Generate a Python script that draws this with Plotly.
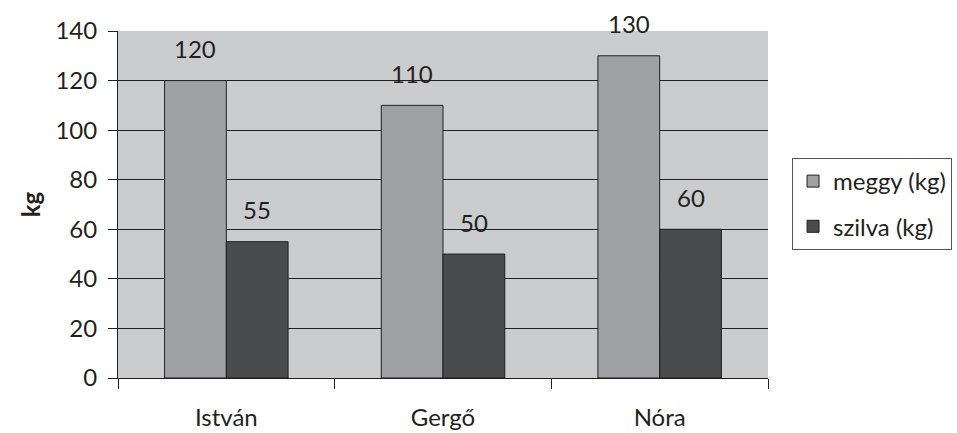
import plotly.graph_objects as go

names = ["István", "Gergő", "Nóra"]
meggy = [120, 110, 130]
szilva = [55, 50, 60]
series_names = ["meggy (kg)", "szilva (kg)"]
y_ticks = [0, 20, 40, 60, 80, 100, 120, 140]

ink = "#231f20"
font_family = "Lato, 'Open Sans', sans-serif"
fsize = 24

fig = go.Figure()
fig.add_trace(go.Bar(
    x=names, y=meggy, name=series_names[0], legendgroup="a",
    marker=dict(color="#a0a1a4", line=dict(color=ink, width=1)),
))
fig.add_trace(go.Bar(
    x=names, y=szilva, name=series_names[1], legendgroup="b",
    marker=dict(color="#4a4b4d", line=dict(color=ink, width=1)),
))

# value labels above each bar
for vals, shift in ((meggy, -31), (szilva, 31)):
    for n, v in zip(names, vals):
        fig.add_annotation(
            x=n, y=v, text=str(v), showarrow=False,
            xshift=shift, yshift=32,
            font=dict(family=font_family, size=fsize, color=ink),
        )

fig.update_layout(
    width=957, height=433,
    margin=dict(l=118, r=189, t=31, b=55, autoexpand=False),
    paper_bgcolor="white",
    plot_bgcolor="#cbcccd",
    barmode="group",
    bargap=0.43,
    bargroupgap=0,
    font=dict(family=font_family, size=fsize, color=ink),
    showlegend=True,
    legend=dict(
        x=1.037, y=0.634, xanchor="left", yanchor="top",
        bordercolor="#555555", borderwidth=1,
        bgcolor="white",
        font=dict(family=font_family, size=fsize, color=ink),
        tracegroupgap=11,
        itemwidth=30,
    ),
)

fig.update_xaxes(
    type="category",
    tickson="boundaries",
    ticks="outside", ticklen=10, tickcolor=ink, tickwidth=1,
    showline=True, linecolor=ink, linewidth=1,
    showgrid=False,
    automargin=False,
    ticklabelstandoff=18,
    tickfont=dict(size=fsize, color=ink),
)
fig.update_yaxes(
    range=[0, 140],
    tickvals=y_ticks,
    ticks="outside", ticklen=9, tickcolor=ink, tickwidth=1,
    showline=True, linecolor=ink, linewidth=1,
    showgrid=True, gridcolor=ink, gridwidth=1,
    zeroline=False,
    automargin=False,
    ticklabelstandoff=6,
    tickfont=dict(size=fsize, color=ink),
    title=dict(text="<b>kg</b>", font=dict(size=fsize, color=ink), standoff=8),
)

fig.write_html("out.html")
